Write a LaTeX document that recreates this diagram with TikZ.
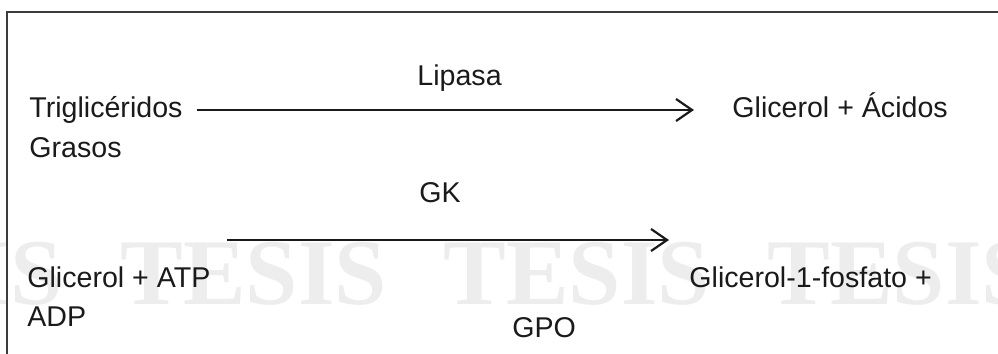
\documentclass[tikz,border=0pt]{standalone}
\usepackage{fontspec}
\setmainfont{Liberation Sans}
\newfontfamily\wmfont{Liberation Serif}
\usetikzlibrary{arrows.meta}
\definecolor{wm}{HTML}{EDEDED}
\definecolor{ink}{HTML}{1A1A1A}
\tikzset{
  lbl/.style={anchor=base west, inner sep=0pt, font=\fontsize{14.3}{16}\selectfont, text=ink},
  wmark/.style={anchor=base west, inner sep=0pt, font=\wmfont\bfseries\fontsize{47}{52}\selectfont, text=wm},
  rxn/.style={draw=ink, line width=1.1pt, -{Straight Barb[length=8pt,width=11pt,line width=1.1pt]}},
  frame/.style={draw=ink!85, line width=0.6pt}
}
\begin{document}
\begin{tikzpicture}[x=0.5pt,y=-0.5pt]
\useasboundingbox (0,0) rectangle (998,354);
% watermark
\node[wmark] (w0) at (-204,304) {TESIS};
\node[wmark] (w1) at (120,304) {TESIS};
\node[wmark] (w2) at (443,304) {TESIS};
\node[wmark] (w3) at (767,304) {TESIS};
% frame
\draw[frame] (7,354) -- (7,12) -- (998,12);
% labels
\node[lbl] (lip) at (417,85) {Lipasa};
\node[lbl] (tri) at (29,117) {Triglicéridos};
\node[lbl] (gra) at (29,157) {Grasos};
\node[lbl] (gac) at (732,117) {Glicerol + Ácidos};
\node[lbl] (gk) at (419,202) {GK};
\node[lbl] (gatp) at (27,287) {Glicerol + ATP};
\node[lbl] (adp) at (27,326) {ADP};
\node[lbl] (g1p) at (689,287) {Glicerol-1-fosfato +};
\node[lbl] (gpo) at (512,337) {GPO};
% arrows
\coordinate (a1s) at (197,110);
\coordinate (a1e) at (694,110);
\coordinate (a2s) at (227,240);
\coordinate (a2e) at (669,240);
\draw[rxn] (a1s) -- (a1e);
\draw[rxn] (a2s) -- (a2e);
\end{tikzpicture}
\end{document}
